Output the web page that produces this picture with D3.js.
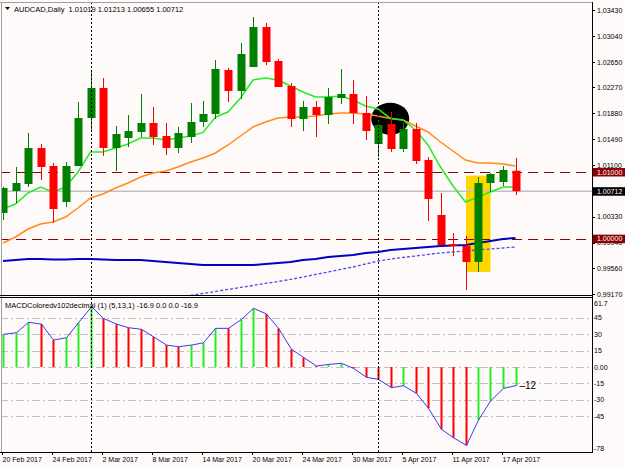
<!DOCTYPE html>
<html>
<head>
<meta charset="utf-8">
<script src="https://cdn.jsdelivr.net/npm/d3@7"></script>
<style>
  body { margin: 0; background: #fffafa; }
  svg text { font-family: "Liberation Sans", Arial, sans-serif; }
</style>
</head>
<body>
<div id="chart"></div>
<script>
// ------------------ DATA ------------------ //
const dates = ["2017-02-20","2017-02-21","2017-02-22","2017-02-23","2017-02-24","2017-02-27","2017-02-28",
  "2017-03-01","2017-03-02","2017-03-03","2017-03-06","2017-03-07","2017-03-08","2017-03-09","2017-03-10",
  "2017-03-13","2017-03-14","2017-03-15","2017-03-16","2017-03-17","2017-03-20","2017-03-21","2017-03-22",
  "2017-03-23","2017-03-24","2017-03-27","2017-03-28","2017-03-29","2017-03-30","2017-03-31",
  "2017-04-03","2017-04-04","2017-04-05","2017-04-06","2017-04-07","2017-04-10","2017-04-11","2017-04-12",
  "2017-04-13","2017-04-14","2017-04-17","2017-04-18"];

const opens  = [1.00385,1.00715,1.00820,1.01360,1.01090,1.00550,1.01090,1.01810,1.02260,1.01360,1.01510,
  1.01600,1.01735,1.01540,1.01360,1.01525,1.01750,1.01870,1.02530,1.02215,1.02575,1.03175,1.02665,1.02290,
  1.01795,1.01975,1.01855,1.02110,1.02170,1.01885,1.01420,1.01720,1.01345,1.01645,1.01180,1.00355,0.99920,
  0.99890,0.99650,1.00835,1.00850,1.01019];
const highs  = [1.00775,1.01075,1.01585,1.01420,1.01135,1.01150,1.02050,1.02530,1.02410,1.01690,1.01855,
  1.02170,1.01975,1.01735,1.01675,1.02035,1.02065,1.02680,1.02560,1.02935,1.03325,1.03235,1.02695,1.02335,
  1.02065,1.02065,1.02260,1.02545,1.02380,1.02140,1.01855,1.01900,1.01735,1.01735,1.01225,1.00685,1.00085,
  1.00040,1.00925,1.00985,1.01090,1.01213];
const lows   = [1.00280,1.00535,1.00775,1.00880,1.00235,1.00475,1.01090,1.01630,1.01240,1.01015,1.01375,
  1.01525,1.01405,1.01255,1.01285,1.01435,1.01675,1.01795,1.02050,1.02095,1.02575,1.02605,1.02275,1.01675,
  1.01615,1.01525,1.01720,1.02020,1.01720,1.01480,1.01225,1.01300,1.01300,1.01120,1.00265,0.99905,0.99740,
  0.99230,0.99500,1.00700,1.00790,1.00655];
const closes = [1.00760,1.00835,1.01360,1.01075,1.00445,1.01090,1.01810,1.02260,1.01360,1.01570,1.01615,
  1.01735,1.01525,1.01360,1.01585,1.01750,1.01870,1.02545,1.02215,1.02770,1.03175,1.02650,1.02275,1.01795,
  1.01975,1.01855,1.02125,1.02170,1.01885,1.01615,1.01705,1.01345,1.01645,1.01165,1.00595,0.99905,0.99890,
  0.99650,1.00835,1.00970,1.01030,1.00712];

// moving averages
const maFast = [1.00445,1.00520,1.00685,1.00775,1.00700,1.00775,1.01000,1.01300,1.01300,1.01360,1.01420,
  1.01510,1.01510,1.01480,1.01510,1.01540,1.01593,1.01825,1.01900,1.02110,1.02380,1.02410,1.02380,1.02290,
  1.02200,1.02125,1.02125,1.02140,1.02080,1.01990,1.01945,1.01803,1.01780,1.01630,1.01405,1.01075,1.00790,
  1.00550,1.00625,1.00700,1.00775,1.00775];
const maSlow = [0.99935,1.00025,1.00145,1.00220,1.00250,1.00325,1.00460,1.00610,1.00670,1.00760,1.00835,
  1.00925,1.00985,1.01015,1.01075,1.01150,1.01210,1.01285,1.01405,1.01540,1.01675,1.01750,1.01810,1.01825,
  1.01825,1.01840,1.01870,1.01885,1.01885,1.01870,1.01840,1.01803,1.01780,1.01690,1.01600,1.01450,1.01315,
  1.01180,1.01135,1.01135,1.01120,1.01090];
const maLong = [0.99665,0.99680,0.99695,0.99695,0.99688,0.99688,0.99695,0.99695,0.99688,0.99680,0.99680,
  0.99680,0.99665,0.99650,0.99635,0.99620,0.99605,0.99605,0.99605,0.99605,0.99605,0.99620,0.99635,0.99650,
  0.99680,0.99695,0.99725,0.99740,0.99755,0.99785,0.99800,0.99830,0.99845,0.99860,0.99875,0.99890,0.99898,
  0.99905,0.99935,0.99965,0.99995,1.00010];
const maDotted = [null,null,null,null,null,null,null,null,null,null,null,null,null,null,null,
  0.99148,0.99178,0.99208,0.99238,0.99268,0.99298,0.99328,0.99358,0.99388,0.99425,0.99463,0.99500,0.99538,
  0.99575,0.99620,0.99665,0.99695,0.99718,0.99740,0.99763,0.99785,0.99800,0.99815,0.99830,0.99845,0.99860,
  0.99875];

const macd = [29.9,31.4,40.9,39.3,24.7,26.8,40.5,55.2,44.5,39.3,36.0,34.5,27.7,20.1,18.6,20.1,22.2,35.4,
  35.4,43.6,53.7,48.5,35.4,16.2,8.8,0.9,2.4,3.4,-1.2,-9.4,-11.3,-18.9,-17.1,-24.1,-37.8,-57.0,-64.7,-71.7,
  -48.5,-31.1,-19.5,-16.9];

// 1.00720 sits under the last-price label, so it is not listed
const priceTicks = [1.03430,1.03040,1.02650,1.02270,1.01880,1.01490,1.01100,1.00330,0.99940,0.99560,0.99170];
const levelLines = [1.01000, 1.00000];
const lastPrice = 1.00712;
const macdGrid = [45, 30, 15, 0, -15, -30, -45];
const macdTop = 61.7, macdBottom = -78;
const separators = [7, 30];           // first bars of March and April
const highlightBars = [37, 38];       // yellow box
const titleText = "AUDCAD,Daily  1.01019 1.01213 1.00655 1.00712";
const macdTitle = "MACDColoredv102decimal (1) (5,13,1) -16.9 0.0 0.0 -16.9";

// ------------------ LAYOUT ------------------ //
const W = 625, H = 469;
const axisX = 592;
const mainTop = 2, mainBot = 296, subTop = 298, subBot = 452;

const svg = d3.select("#chart").append("svg")
  .attr("width", W).attr("height", H)
  .style("display", "block");

svg.append("rect").attr("width", W).attr("height", H).attr("fill", "#fffafa");

const x = d3.scaleLinear().domain([0, 41]).range([3, 515.5]);
const y = d3.scaleLinear().domain([0.99170, 1.03430]).range([294, 10]);
const ym = d3.scaleLinear().domain([macdBottom, macdTop]).range([452.3, 299.6]);

const defs = svg.append("defs");
defs.append("clipPath").attr("id", "clipMain")
  .append("rect").attr("x", 1).attr("y", mainTop).attr("width", axisX - 1).attr("height", mainBot - mainTop);
defs.append("clipPath").attr("id", "clipSub")
  .append("rect").attr("x", 1).attr("y", subTop).attr("width", axisX - 1).attr("height", subBot - subTop);

const main = svg.append("g").attr("clip-path", "url(#clipMain)");
const sub = svg.append("g").attr("clip-path", "url(#clipSub)");

//------------------ MAIN PANEL ------------------//
// black marker blob
main.append("ellipse")
  .attr("cx", (x(30) + x(31)) / 2 + 6).attr("cy", y(1.01800))
  .attr("rx", 19).attr("ry", 16)
  .attr("fill", "#000");

// yellow highlight box
main.append("rect")
  .attr("x", x(highlightBars[0]) + 0.5)
  .attr("y", y(1.00945))
  .attr("width", x(highlightBars[1]) - x(highlightBars[0]) + 12)
  .attr("height", y(0.99500) - y(1.00945))
  .attr("fill", "#ffd700");

// level lines
main.selectAll(".level").data(levelLines).enter()
  .append("line")
  .attr("x1", 0).attr("x2", axisX)
  .attr("y1", d => Math.round(y(d)) + 0.5).attr("y2", d => Math.round(y(d)) + 0.5)
  .attr("stroke", "#8b0000").attr("stroke-width", 1)
  .attr("stroke-dasharray", "10,6");

main.append("line")
  .attr("x1", 0).attr("x2", axisX)
  .attr("y1", y(lastPrice)).attr("y2", y(lastPrice))
  .attr("stroke", "#c0c0c0").attr("stroke-width", 1.5);

// moving averages
const maLine = d3.line()
  .defined(d => d != null)
  .x((d, i) => x(i))
  .y(d => y(d));

main.append("path").datum(maDotted)
  .attr("d", maLine).attr("fill", "none")
  .attr("stroke", "#4b4bf0").attr("stroke-width", 1.3)
  .attr("stroke-dasharray", "3,2");

main.append("path").datum(maLong)
  .attr("d", maLine).attr("fill", "none")
  .attr("stroke", "#0000c8").attr("stroke-width", 2);

main.append("path").datum(maSlow)
  .attr("d", maLine).attr("fill", "none")
  .attr("stroke", "#ff8c1a").attr("stroke-width", 1.5);

main.append("path").datum(maFast)
  .attr("d", maLine).attr("fill", "none")
  .attr("stroke", "#22ee22").attr("stroke-width", 1.5);

// candles
const candles = main.selectAll(".candle").data(dates).enter()
  .append("g").attr("class", "candle");

candles.append("line")
  .attr("x1", (d, i) => Math.round(x(i)) + 0.5).attr("x2", (d, i) => Math.round(x(i)) + 0.5)
  .attr("y1", (d, i) => y(highs[i])).attr("y2", (d, i) => y(lows[i]))
  .attr("stroke", (d, i) => closes[i] >= opens[i] ? "#008000" : "#ff0000")
  .attr("stroke-width", 1);

candles.append("rect")
  .attr("x", (d, i) => Math.round(x(i)) - 3.5)
  .attr("width", 8)
  .attr("y", (d, i) => y(Math.max(opens[i], closes[i])))
  .attr("height", (d, i) => Math.max(1, Math.abs(y(opens[i]) - y(closes[i]))))
  .attr("fill", (d, i) => closes[i] >= opens[i] ? "#008000" : "#ff0000");

//------------------ MACD PANEL ------------------//
sub.selectAll(".grid").data(macdGrid).enter()
  .append("line")
  .attr("x1", 0).attr("x2", axisX)
  .attr("y1", d => Math.round(ym(d)) + 0.5).attr("y2", d => Math.round(ym(d)) + 0.5)
  .attr("stroke", "#c0c0c0").attr("stroke-width", 1)
  .attr("stroke-dasharray", "8,3,2,3");

sub.selectAll(".hist").data(macd).enter()
  .append("line")
  .attr("x1", (d, i) => Math.round(x(i)) + 0.5).attr("x2", (d, i) => Math.round(x(i)) + 0.5)
  .attr("y1", ym(0)).attr("y2", d => ym(d))
  .attr("stroke", (d, i) => (i === 0 || d > macd[i - 1]) ? "#22ee22" : "#ff0000")
  .attr("stroke-width", 2);

sub.append("path").datum(macd)
  .attr("d", d3.line().x((d, i) => Math.round(x(i)) + 0.5).y(d => ym(d)))
  .attr("fill", "none")
  .attr("stroke", "#3a3af5").attr("stroke-width", 1);

sub.append("text")
  .attr("x", x(41) + 4).attr("y", ym(macd[41]) + 3.5)
  .style("font-size", "10px").attr("fill", "#000")
  .text("\u201312");

sub.append("text")
  .attr("x", 5).attr("y", 308)
  .style("font-size", "7.5px").attr("fill", "#000")
  .text(macdTitle);

//------------------ SEPARATORS & FRAME ------------------//
svg.selectAll(".sep").data(separators).enter()
  .append("line")
  .attr("x1", d => Math.round(x(d)) + 0.5).attr("x2", d => Math.round(x(d)) + 0.5)
  .attr("y1", mainTop).attr("y2", subBot)
  .attr("stroke", "#000").attr("stroke-width", 1)
  .attr("stroke-dasharray", "2,2");

// frame lines
svg.append("line").attr("x1", 0).attr("x2", axisX).attr("y1", mainTop + 0.5).attr("y2", mainTop + 0.5)
  .attr("stroke", "#a0a0a0");
svg.append("line").attr("x1", 1.5).attr("x2", 1.5).attr("y1", mainTop).attr("y2", subBot)
  .attr("stroke", "#a0a0a0");
[295.5, 297.5, subBot + 0.5].forEach(v => {
  svg.append("line").attr("x1", 0).attr("x2", axisX + 1).attr("y1", v).attr("y2", v)
    .attr("stroke", "#000");
});
svg.append("line").attr("x1", axisX + 0.5).attr("x2", axisX + 0.5).attr("y1", mainTop).attr("y2", subBot + 1)
  .attr("stroke", "#000");

//------------------ TITLE ------------------//
svg.append("path").attr("d", "M5,7 L10,7 L7.5,10 Z").attr("fill", "#000");
svg.append("text")
  .attr("x", 14).attr("y", 12)
  .style("font-size", "7.5px").attr("fill", "#000")
  .attr("xml:space", "preserve")
  .text(titleText);

//------------------ PRICE AXIS ------------------//
const pAxis = svg.append("g");
priceTicks.forEach(p => {
  pAxis.append("line")
    .attr("x1", axisX).attr("x2", axisX + 3)
    .attr("y1", Math.round(y(p)) + 0.5).attr("y2", Math.round(y(p)) + 0.5)
    .attr("stroke", "#000");
  pAxis.append("text")
    .attr("x", axisX + 5).attr("y", y(p) + 2.5)
    .style("font-size", "7px").attr("fill", "#000")
    .text(p.toFixed(5));
});

function priceLabel(value, fill) {
  pAxis.append("rect")
    .attr("x", axisX + 1).attr("y", y(value) - 4)
    .attr("width", W - axisX - 1).attr("height", 8.5)
    .attr("fill", fill);
  pAxis.append("text")
    .attr("x", axisX + 5).attr("y", y(value) + 2.6)
    .style("font-size", "7px").attr("fill", "#fff")
    .text(value.toFixed(5));
}
priceLabel(levelLines[0], "#8b0000");
priceLabel(lastPrice, "#000");
priceLabel(levelLines[1], "#8b0000");

//------------------ MACD AXIS ------------------//
const mAxis = svg.append("g");
macdGrid.forEach(v => {
  mAxis.append("text")
    .attr("x", axisX + 2).attr("y", ym(v) + 2.5)
    .style("font-size", "7px").attr("fill", "#000")
    .text(v === 0 ? "0.00" : v);
});
mAxis.append("text").attr("x", axisX + 2).attr("y", 306)
  .style("font-size", "7px").attr("fill", "#000").text(macdTop);
mAxis.append("text").attr("x", axisX + 2).attr("y", 450.5)
  .style("font-size", "7px").attr("fill", "#000").text(macdBottom);

//------------------ TIME AXIS ------------------//
const parse = d3.timeParse("%Y-%m-%d");
const fmt = d3.timeFormat("%-d %b %Y");
const tAxis = svg.append("g");
dates.forEach((d, i) => {
  if (i % 4 !== 0) return;
  const tx = Math.round(x(i)) - 0.5;
  tAxis.append("line")
    .attr("x1", tx).attr("x2", tx).attr("y1", subBot).attr("y2", subBot + 3)
    .attr("stroke", "#000");
  tAxis.append("text")
    .attr("x", tx).attr("y", 462)
    .style("font-size", "7px").attr("fill", "#000")
    .text(fmt(parse(d)));
});
</script>
</body>
</html>
